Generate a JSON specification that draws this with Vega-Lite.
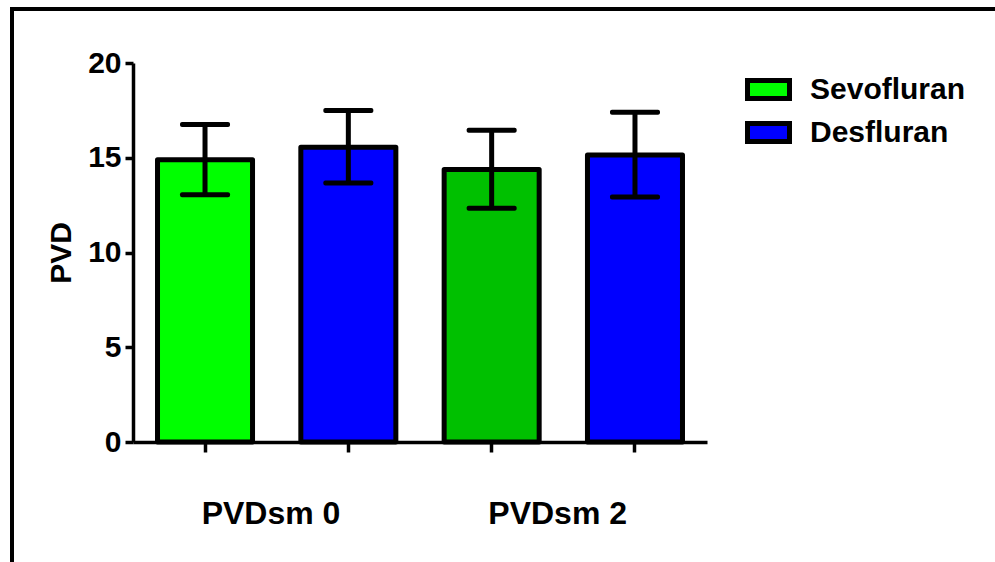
{
  "$schema": "https://vega.github.io/schema/vega-lite/v6.json",
  "width": 1000,
  "height": 570,
  "autosize": {"type": "none"},
  "padding": {"left": 12, "top": 9, "right": 0, "bottom": 0},
  "background": "white",
  "config": {
    "view": {"stroke": "black", "strokeWidth": 4},
    "font": "Liberation Sans"
  },
  "data": {
    "values": [
      {"bar": "PVDsm 0 Sevofluran", "group": "PVDsm 0", "drug": "Sevofluran", "series": "Sevofluran", "mean": 14.9, "lo": 13.05, "hi": 16.76},
      {"bar": "PVDsm 0 Desfluran", "group": "PVDsm 0", "drug": "Desfluran", "series": "Desfluran", "mean": 15.55, "lo": 13.67, "hi": 17.5},
      {"bar": "PVDsm 2 Sevofluran", "group": "PVDsm 2", "drug": "Sevofluran", "series": "Sevofluran (PVDsm 2)", "mean": 14.38, "lo": 12.33, "hi": 16.45},
      {"bar": "PVDsm 2 Desfluran", "group": "PVDsm 2", "drug": "Desfluran", "series": "Desfluran", "mean": 15.15, "lo": 12.93, "hi": 17.4}
    ]
  },
  "encoding": {
    "x": {
      "field": "bar",
      "type": "nominal",
      "sort": null,
      "scale": {"range": [121, 695], "paddingInner": 0.337, "paddingOuter": 0.171},
      "axis": {
        "title": null,
        "offset": -137,
        "domainColor": "black",
        "domainWidth": 3.5,
        "tickColor": "black",
        "tickWidth": 3.5,
        "tickSize": 10,
        "labelExpr": "indexof(datum.value, 'Sevofluran') > 0 ? slice(datum.value, 0, 7) : ''",
        "labelAngle": 0,
        "labelFont": "Liberation Sans",
        "labelFontSize": 32,
        "labelFontWeight": "bold",
        "labelColor": "black",
        "labelPadding": 46,
        "labelOffset": 66,
        "labelOverlap": false,
        "labelBound": false,
        "labelFlush": false
      }
    }
  },
  "layer": [
    {
      "mark": {"type": "bar", "stroke": "black", "strokeWidth": 5, "strokeJoin": "round", "opacity": 1},
      "encoding": {
        "y": {
          "field": "mean",
          "type": "quantitative",
          "title": "PVD",
          "scale": {"domain": [0, 20], "range": [433, 54], "nice": false},
          "axis": {
            "title": "PVD",
            "values": [0, 5, 10, 15, 20],
            "grid": false,
            "offset": -121,
            "domainColor": "black",
            "domainWidth": 3.5,
            "tickColor": "black",
            "tickWidth": 3.5,
            "tickSize": 8,
            "labelFont": "Liberation Sans",
            "labelFontSize": 30,
            "labelFontWeight": "bold",
            "labelColor": "black",
            "labelPadding": 4,
            "titleFont": "Liberation Sans",
            "titleFontSize": 30,
            "titleFontWeight": "bold",
            "titleColor": "black",
            "titlePadding": 11
          }
        },
        "color": {
          "field": "series",
          "type": "nominal",
          "scale": {
            "domain": ["Sevofluran", "Desfluran", "Sevofluran (PVDsm 2)"],
            "range": ["#00ff00", "#0000ff", "#00c000"]
          },
          "legend": {
            "orient": "none",
            "legendX": 733,
            "legendY": 57,
            "title": null,
            "values": ["Sevofluran", "Desfluran"],
            "symbolType": "M-1,-0.43H1V0.43H-1Z",
            "symbolSize": 1764,
            "symbolStrokeColor": "black",
            "symbolStrokeWidth": 5,
            "symbolOpacity": 1,
            "labelFont": "Liberation Sans",
            "labelFontSize": 30,
            "labelFontWeight": "bold",
            "labelColor": "black",
            "labelOffset": 18,
            "rowPadding": -1,
            "labelLimit": 300
          }
        }
      }
    },
    {
      "mark": {"type": "rule", "color": "black", "strokeWidth": 5},
      "encoding": {
        "y": {"field": "lo", "type": "quantitative", "title": "PVD"},
        "y2": {"field": "hi"}
      }
    },
    {
      "mark": {"type": "tick", "color": "black", "thickness": 5, "size": 50, "orient": "horizontal", "opacity": 1, "cornerRadius": 2},
      "encoding": {
        "y": {"field": "hi", "type": "quantitative", "title": "PVD"}
      }
    },
    {
      "mark": {"type": "tick", "color": "black", "thickness": 5, "size": 50, "orient": "horizontal", "opacity": 1, "cornerRadius": 2},
      "encoding": {
        "y": {"field": "lo", "type": "quantitative", "title": "PVD"}
      }
    }
  ]
}
